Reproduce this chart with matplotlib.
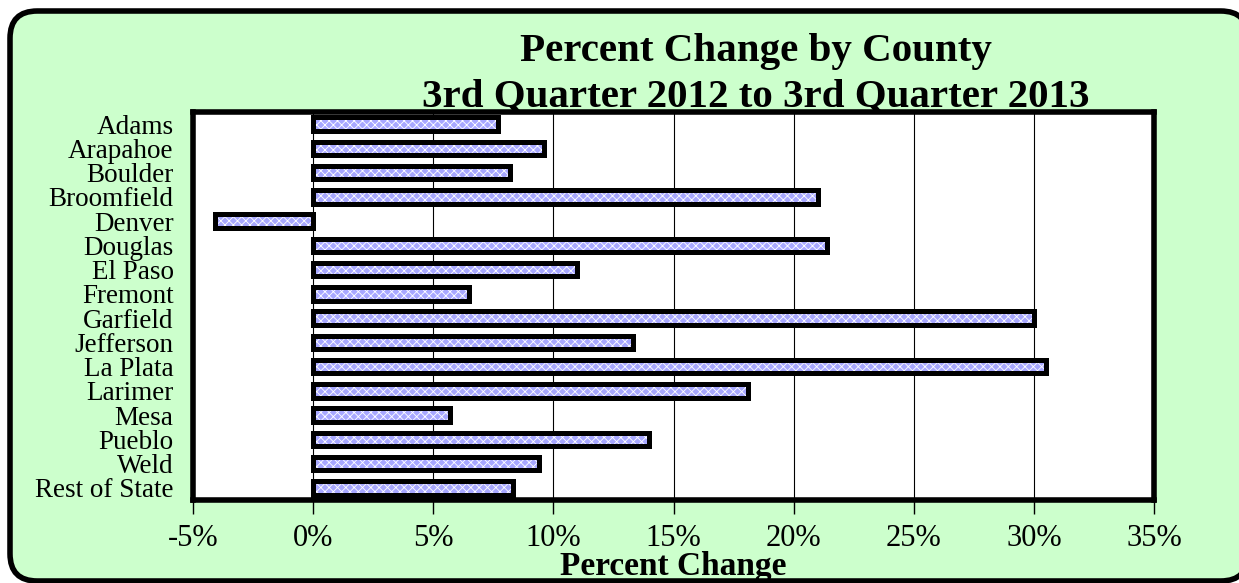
import matplotlib
matplotlib.use('Agg')
import matplotlib.pyplot as plt
from matplotlib.patches import FancyBboxPatch
from matplotlib.ticker import FuncFormatter

# data (percent change)
counties = ['Adams', 'Arapahoe', 'Boulder', 'Broomfield', 'Denver', 'Douglas',
            'El Paso', 'Fremont', 'Garfield', 'Jefferson', 'La Plata', 'Larimer',
            'Mesa', 'Pueblo', 'Weld', 'Rest of State']
pct_change = [7.7, 9.6, 8.2, 21.0, -4.1, 21.4, 11.0, 6.5, 30.0, 13.3, 30.5,
              18.1, 5.7, 14.0, 9.4, 8.3]
x_ticks = [-5, 0, 5, 10, 15, 20, 25, 30, 35]

plt.rcParams['font.family'] = 'Liberation Serif'
plt.rcParams['hatch.linewidth'] = 0.6

fig = plt.figure(figsize=(12.39, 5.83), dpi=100)
fig.patch.set_facecolor('white')

# rounded green frame round the whole chart
frame = FancyBboxPatch((10 / 1239, 2 / 583), 1238 / 1239, 570 / 583,
                       boxstyle='round,pad=0,rounding_size=0.022',
                       transform=fig.transFigure, facecolor='#CCFFCC',
                       edgecolor='black', linewidth=4, mutation_aspect=1239 / 583,
                       zorder=-10)
fig.patches.append(frame)

ax = fig.add_axes([193 / 1239, 1 - 500 / 583, 961 / 1239, 388 / 583])
ax.set_facecolor('white')

ypos = list(range(len(counties)))
# hatched fill first, then the heavy black outline on top
ax.barh(ypos, pct_change, height=0.55, color='#A8A8FF', edgecolor='white',
        hatch='xxxx', linewidth=0, zorder=3)
ax.barh(ypos, pct_change, height=0.55, fill=False, edgecolor='black',
        linewidth=3.6, zorder=4)

ax.set_xlim(-5, 35)
ax.set_ylim(len(counties) - 0.5, -0.5)
ax.set_xticks(x_ticks)
ax.xaxis.set_major_formatter(FuncFormatter(lambda v, p: '%d%%' % v))
ax.set_yticks(ypos)
ax.set_yticklabels(counties)
ax.grid(axis='x', color='black', linewidth=0.8, zorder=1)
ax.set_axisbelow(True)

for s in ax.spines.values():
    s.set_linewidth(4)
ax.tick_params(axis='x', direction='out', length=10, width=1, labelsize=22, pad=7)
ax.tick_params(axis='y', length=0, labelsize=19.5, pad=14)
ax.set_xlabel('Percent Change', fontsize=24, fontweight='bold', va='center')
ax.xaxis.set_label_coords(0.5, -(567 - 500) / 388)

fig.text(0.61, 1 - 51 / 583, 'Percent Change by County', ha='center', va='center',
         fontsize=29.5, fontweight='bold')
fig.text(0.61, 1 - 97 / 583, '3rd Quarter 2012 to 3rd Quarter 2013', ha='center',
         va='center', fontsize=29.5, fontweight='bold')

fig.savefig('out.png', dpi=100, facecolor=fig.get_facecolor())
